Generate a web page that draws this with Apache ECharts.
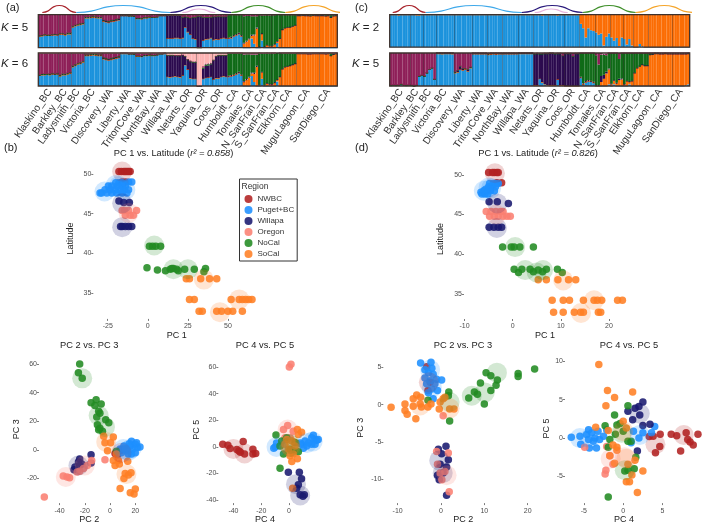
<!DOCTYPE html>
<html><head><meta charset="utf-8">
<script src="https://cdn.jsdelivr.net/npm/echarts@6/dist/echarts.min.js"></script>
<style>html,body{margin:0;padding:0;background:#fff}#c{width:709px;height:525px}#c canvas{filter:blur(0.3px)}</style>
</head><body><div id="c"></div>
<script>
// ---------- structure plots ----------
const popNames=['Klaskino_BC','Barkley_BC','Ladysmith_BC','Victoria_BC','Discovery_WA','Liberty_WA','TritonCove_WA','NorthBay_WA','Willapa_WA','Netarts_OR','Yaquina_OR','Coos_OR','Humboldt_CA','Tomales_CA','N_SanFran_CA','S_SanFran_CA','Elkhorn_CA','MuguLagoon_CA','SanDiego_CA'];
const popSizes=[8,5,5,7,7,6,6,6,6,6,6,6,6,6,5,4,6,9,7];
const clusterNames=['blue','orange','purple','green','maroon','pink'];
const clusterColors=['#1b92dc','#fb6d04','#2b0a4e','#0f6a17','#8e1f58','#fdb3b3'];

const a5Blue=[35,36,38,37,37,38,39,38, 40,40,38,42,42, 62,66,68,70,72, 90,90,91,92,91,90,90, 80,78,76,79,80,82,84, 97,97,97,96,96,95, 88,88,87,90,90,92, 92,92,93,97,97,97, 28,28,28,30,30,28, 30,62,48,40,28,26, 0,0,22,26,27,30, 24,26,25,28,30,28, 28,30,35,38,42,35, 0,0,0,28,12,0, 0,22,0,0,0, 0,0,14,0, 0,0,0,0,0,0, 0,0,0,0,0,0,0,0,0, 0,0,0,0,0,0,0];
const a5Orange=[0,0,0,0,0,0,0,0, 0,0,0,0,0, 0,0,0,0,0, 0,0,0,0,0,0,0, 0,0,0,0,0,0,0, 0,0,0,0,0,0, 0,0,0,0,0,0, 0,0,0,0,0,0, 0,0,0,0,0,0, 0,0,0,0,0,0, 0,0,0,0,0,0, 0,0,0,0,0,0, 0,0,0,0,0,0, 12,18,25,8,25,58, 3,20,3,8,5, 5,10,5,28, 55,60,62,62,65,68, 97,97,98,97,97,96,98,97,97, 97,97,96,97,92,96,97];
const a5Purple=[2,2,2,2,2,2,2,2, 3,3,3,3,3, 3,3,3,3,3, 3,3,3,3,3,3,3, 4,4,4,4,4,4,4, 1,1,1,1,1,1, 2,2,2,2,2,2, 1,1,1,1,1,1, 70,70,70,68,68,70, 62,32,44,50,64,66, 95,95,70,66,65,62, 70,68,70,66,64,66, 3,3,3,3,3,3, 3,3,3,3,3,3, 1,1,1,1,1, 1,1,1,1, 0,0,0,0,0,0, 0,0,0,0,0,0,0,0,0, 0,0,0,0,0,0,0];
const a5Green=[0,0,0,0,0,0,0,0, 0,0,0,0,0, 0,0,0,0,0, 0,0,0,0,0,0,0, 0,0,0,0,0,0,0, 0,0,0,0,0,0, 0,0,0,0,0,0, 0,0,0,0,0,0, 0,0,0,0,0,0, 0,0,0,0,0,0, 0,0,0,0,0,0, 0,0,0,0,0,0, 69,67,62,59,55,62, 80,75,68,56,55,34, 95,55,94,90,92, 93,88,80,70, 45,40,38,38,35,32, 3,3,2,3,3,4,2,3,3, 3,3,4,3,8,4,3];
const a5Maroon=[63,62,60,61,61,60,59,60, 57,57,59,55,55, 35,31,29,27,25, 7,7,6,5,6,7,7, 16,18,20,17,16,14,12, 2,2,2,3,3,4, 10,10,11,8,8,6, 7,7,6,2,2,2, 2,2,2,2,2,2, 8,6,8,10,8,8, 5,5,8,8,8,8, 6,6,5,6,6,6, 0,0,0,0,0,0, 5,4,4,5,5,5, 1,2,2,1,2, 1,1,1,2, 0,0,0,0,0,0, 0,0,0,0,0,0,0,0,0, 0,0,0,0,0,0,0];

const a6Blue=[32,34,34,35,34,36,35,36, 30,34,34,36,38, 58,62,66,68,72, 92,92,93,94,93,92,92, 82,80,78,80,82,84,86, 98,98,98,97,97,96, 90,90,89,92,92,93, 92,92,94,97,97,98, 28,27,28,30,28,27, 32,64,50,24,22,22, 0,0,22,25,26,28, 20,24,24,28,30,28, 28,30,32,36,40,32, 0,0,0,30,12,0, 0,22,0,0,0, 0,0,14,0, 0,0,0,0,0,0, 0,0,0,0,0,0,0,0,0, 0,0,0,0,0,0,0];
const a6Orange=[0,0,0,0,0,0,0,0, 0,0,0,0,0, 0,0,0,0,0, 0,0,0,0,0,0,0, 0,0,0,0,0,0,0, 0,0,0,0,0,0, 0,0,0,0,0,0, 0,0,0,0,0,0, 0,0,0,0,0,0, 0,0,0,0,0,0, 0,0,0,0,0,0, 0,0,0,0,0,0, 0,0,0,0,0,0, 12,18,25,8,25,58, 3,20,3,8,5, 5,10,5,28, 52,58,60,62,65,68, 98,98,98,98,97,97,98,98,98, 98,98,97,98,92,96,98];
const a6Purple=[2,2,2,2,2,2,2,2, 3,3,3,3,3, 3,3,3,3,3, 3,3,3,3,3,3,3, 4,4,4,4,4,4,4, 1,1,1,1,1,1, 2,2,2,2,2,2, 1,1,1,1,1,1, 65,66,65,62,64,65, 63,26,30,50,50,50, 0,0,30,36,36,38, 58,66,69,65,63,65, 3,3,3,3,3,3, 3,3,3,3,3,3, 1,1,1,1,1, 1,1,1,1, 0,0,0,0,0,0, 0,0,0,0,0,0,0,0,0, 0,0,0,0,0,0,0];
const a6Green=[0,0,0,0,0,0,0,0, 0,0,0,0,0, 0,0,0,0,0, 0,0,0,0,0,0,0, 0,0,0,0,0,0,0, 0,0,0,0,0,0, 0,0,0,0,0,0, 0,0,0,0,0,0, 0,0,0,0,0,0, 0,0,0,0,0,0, 0,0,4,4,4,2, 0,0,0,0,0,0, 69,67,65,61,57,65, 80,75,68,54,55,34, 95,55,94,90,92, 93,88,80,70, 48,42,40,38,35,32, 2,2,2,2,3,3,2,2,2, 2,2,3,2,8,4,2];
const a6Maroon=[66,64,64,63,64,62,63,62, 67,63,63,61,59, 39,35,31,29,25, 5,5,4,3,4,5,5, 14,16,18,16,14,12,10, 1,1,1,2,2,3, 8,8,9,6,6,5, 7,7,5,2,2,1, 2,2,2,2,2,2, 0,2,2,4,3,3, 0,0,4,3,3,3, 2,2,2,2,2,2, 0,0,0,0,0,0, 5,4,4,5,5,5, 1,2,2,1,2, 1,1,1,2, 0,0,0,0,0,0, 0,0,0,0,0,0,0,0,0, 0,0,0,0,0,0,0];
const a6Pink=[0,0,0,0,0,0,0,0, 0,0,0,0,0, 0,0,0,0,0, 0,0,0,0,0,0,0, 0,0,0,0,0,0,0, 0,0,0,0,0,0, 0,0,0,0,0,0, 0,0,0,0,0,0, 5,5,5,6,6,6, 5,8,18,22,25,25, 100,100,40,32,31,29, 20,8,5,5,5,5, 0,0,0,0,0,0, 0,0,0,0,0,0, 0,0,0,0,0, 0,0,0,0, 0,0,0,0,0,0, 0,0,0,0,0,0,0,0,0, 0,0,0,0,0,0,0];

const c2Blue=[100,100,100,98,100,100,100,100, 100,100,98,98,100, 100,100,100,100,100, 100,100,100,100,100,100,100, 100,100,100,100,100,100,100, 100,100,100,100,100,100, 100,100,100,100,100,100, 100,100,100,100,100,100, 100,100,100,100,100,100, 100,100,100,98,100,100, 100,100,100,98,100,100, 100,100,100,100,100,100, 72,58,30,58,52,50, 45,38,42,5,32,42, 30,20,28,4,30, 25,8,25,5, 0,0,10,3,0,0, 0,0,0,0,0,0,0,0,0, 0,0,0,0,0,0,0];
const c2Orange=[0,0,0,2,0,0,0,0, 0,0,2,2,0, 0,0,0,0,0, 0,0,0,0,0,0,0, 0,0,0,0,0,0,0, 0,0,0,0,0,0, 0,0,0,0,0,0, 0,0,0,0,0,0, 0,0,0,0,0,0, 0,0,0,2,0,0, 0,0,0,2,0,0, 0,0,0,0,0,0, 28,42,70,42,48,50, 55,62,58,95,68,58, 70,80,72,96,70, 75,92,75,95, 100,100,90,97,100,100, 100,100,100,100,100,100,100,100,100, 100,100,100,100,100,100,100];

const c5Blue=[2,3,2,3,5,3,2,3, 2,0,2,30,32, 30,40,50,55,20, 98,98,97,98,98,98,97, 40,42,50,48,50,45,55, 97,97,97,97,97,97, 95,96,97,96,97,97, 97,97,97,97,97,97, 98,98,98,98,98,98, 2,2,22,12,6,3, 2,2,2,20,2,2, 0,0,0,0,0,0, 25,5,12,15,14,10, 0,0,0,0,0,5, 0,5,0,0,0, 0,0,5,0, 0,0,0,0,0,0, 0,0,0,0,0,0,0,0,0, 0,0,0,0,0,3,5];
const c5Orange=[0,0,0,0,0,0,0,0, 0,0,0,0,0, 0,0,0,0,0, 0,0,0,0,0,0,0, 0,0,0,0,0,0,0, 0,0,0,0,0,0, 0,0,0,0,0,0, 0,0,0,0,0,0, 0,0,0,0,0,0, 0,0,0,0,0,0, 0,0,0,0,0,0, 0,0,0,0,0,0, 0,0,0,0,0,0, 0,0,12,22,38,45, 5,12,8,18,20, 5,15,8,15, 40,55,60,65,62,62, 95,96,98,98,97,97,98,97,97, 97,97,97,97,97,94,93];
const c5Purple=[0,0,0,0,0,0,0,0, 0,0,0,0,0, 0,0,0,0,0, 2,2,3,2,2,2,3, 3,5,10,5,3,5,2, 2,2,2,2,2,2, 3,3,2,3,2,2, 2,2,2,2,2,2, 2,2,2,2,2,2, 95,96,75,85,92,95, 97,97,95,78,96,90, 98,98,98,90,98,98, 3,3,3,3,2,3, 3,3,18,12,5,3, 2,1,2,4,3, 1,1,1,1, 0,0,0,0,0,0, 0,0,0,0,0,0,0,0,0, 0,0,0,0,0,0,0];
const c5Green=[0,0,0,0,0,0,0,0, 0,0,0,0,0, 0,0,0,0,0, 0,0,0,0,0,0,0, 0,0,0,0,0,0,0, 0,0,0,0,0,0, 0,0,0,0,0,0, 0,0,0,0,0,0, 0,0,0,0,0,0, 0,0,0,0,0,0, 0,0,0,0,0,0, 0,0,0,0,0,0, 72,92,85,82,84,87, 90,62,65,60,50,47, 93,82,90,60,77, 94,84,86,84, 60,45,40,35,38,38, 5,4,2,2,3,3,2,3,3, 3,3,3,3,3,3,2];
const c5Maroon=[98,97,98,97,95,97,98,97, 98,100,98,70,68, 70,60,50,45,80, 0,0,0,0,0,0,0, 57,53,40,47,47,50,43, 1,1,1,1,1,1, 2,1,1,1,1,1, 1,1,1,1,1,1, 0,0,0,0,0,0, 3,2,3,3,2,2, 1,1,3,2,2,8, 2,2,2,10,2,2, 0,0,0,0,0,0, 7,35,5,3,5,0, 0,0,0,18,0, 0,0,0,0, 0,0,0,0,0,0, 0,0,0,0,0,0,0,0,0, 0,0,0,0,0,0,0];

// ---------- population arcs (hump outline, axis span per region) ----------
const humpX=[0,0.16,0.33,0.5,0.67,0.84,1];
const humpY=[0,0.2,0.8,1,0.8,0.2,0];
const arcNames=['red','sky','indigo','pink','leaf','amber'];
const arcColors=['#a8242c','#3fa9ea','#2a1a7c','#e6b3dc','#3f8f2a','#f5a52a'];
const arcHeights=[1,1,1,0.5,1,1];
const arcSpansA=[[4,38],[38,132],[132,193],[144,177],[193,247],[247,304]];
const arcSpansC=[[3,36],[36,132],[132,193],[145,178],[193,246],[246,303]];

// ---------- scatter panels ----------
const regions=['NWBC','Puget+BC','Willapa','Oregon','NoCal','SoCal'];
const regionColors=['#b22222','#1e90ff','#191970','#fa8072','#228b22','#ff7f24'];

const b1NW=[[-18,50.3],[-16.5,50.3],[-15,50.3],[-14,50.3],[-13,50.3],[-12,50.3],[-11,50.3],[-16,49],[-14,49]];
const b1PS=[[-10,49],[-12,49],[-16,48.9],[-18,48.9],[-20,48.9],[-14,48.5],[-16,48.5],[-19,48.5],[-22.5,48.5],[-24.6,48.5],[-12,48],[-14.8,48],[-17.3,48],[-20.4,48],[-23.5,48],[-26.7,48],[-13,47.6],[-16,47.6],[-19.4,47.6],[-22.5,47.6],[-25.6,47.6],[-28.8,47.6],[-29.8,47.6]];
const b1WI=[[-18,46.6],[-15,46.4],[-11.5,46.4],[-17,43.4],[-16,43.4],[-14,43.4],[-12,43.4],[-10,43.4]];
const b1OR=[[-16,45.4],[-14.5,45.4],[-12,45.4],[-7,45.4],[-14,44.8],[-11,44.8],[-9,44.8]];
const b1NC=[[1,40.9],[3,40.9],[5,40.9],[8,40.9],[-0.5,38.2],[6,37.9],[11,37.8],[14,38],[15,38.1],[16,38.1],[18,38],[19,37.8],[23,38],[29,38],[36,38.1],[35,37.7]];
const b1SC=[[24,36.8],[26,36.8],[33,36.8],[38.5,36.8],[43,36.8],[26,34.2],[29,34.2],[52,34.2],[57,34.2],[59,34.2],[61,34.2],[63,34.2],[65,34.2],[32,32.7],[34,32.7],[43,32.7],[46,32.7],[50,32.7],[53,32.7],[59,32.7]];
const b1NWc=[[-16,50.3]];
const b1PSc=[[-27,47.8],[-20,48.6],[-14,48],[-18,48.5]];
const b1WIc=[[-16,46.3],[-16,43.3]];
const b1ORc=[[-12,45.1]];
const b1NCc=[[4,41],[16,38],[25,38]];
const b1SCc=[[35,36.7],[57,34.2],[45,32.6]];

const b2NW=[[4,-2.5],[6,-3.4],[8,-0.5],[9,0]];
const b2PS=[[8,0.5],[9,-2],[11,2.7],[12.7,-0.7],[14.5,-3],[16,2.7],[17,6],[18,0.5],[20,3.9],[20,-2],[21.6,1.6],[23.7,2],[13,0.5],[10.6,0.5],[15.3,4.3],[17,-3],[21,5]];
const b2WI=[[-15,-3.5],[-15,-9.3],[-24,-6.4],[-25,-8.6],[-22.4,-10],[-27.7,-12],[-28.5,-14],[-24,-11]];
const b2OR=[[-52,-33],[-37,-18.4],[-34,-19],[-32,-19.5],[-4,-7],[-14.5,-7.5],[-21,-13],[-24,-15],[-26,-15.5],[-18,-11]];
const b2NC=[[-24,60],[-25,54],[-22,50],[-15,33],[-11,35],[-7,32],[-12,31],[-9,27],[-10.5,23],[-8,25.5],[-3.4,21],[-1,19],[-10,17.5],[-8,15],[-6,13],[-9,14],[5,-1]];
const b2SC=[[-5,9.5],[2.6,9],[-4,5],[0.5,5],[-2,-0.7],[2.6,-7.5],[6.6,-7.5],[4,-11],[7.4,-10],[14,-8],[12,-16.6],[16.6,-16],[14.5,-17.7],[11,-20],[8,-27],[20,-27.5],[16,-30],[19,-31],[5,-3]];
const b2NWc=[[9,-2]];
const b2PSc=[[10.5,0.5],[17,1],[14.5,-0.7]];
const b2WIc=[[-25,-11]];
const b2ORc=[[-20,-11],[-35,-19]];
const b2NCc=[[-22,50],[-9,24],[-4,16]];
const b2SCc=[[-3,5.5],[13,-17]];

const b3NW=[[-47.7,2],[-44,1.2],[-42.4,-1.2],[-37.6,-2],[-33,4],[-36,-3],[-35,-4],[-32,-5.4],[-26,-1.7],[-26,-5.4],[-24,-5]];
const b3PS=[[-10,0],[-11,-1],[-9,3],[9,2],[11.5,4.4],[14,3],[16.3,6.8],[17.5,8.8],[18.7,5.6],[20,4.9],[21,5.6],[16.3,2],[12.7,0.7],[10.3,-1],[18.7,2],[8,3]];
const b3WI=[[-0.5,-19],[7.4,-19],[9,-24],[6.7,-28.5],[5.5,-31],[8,-36],[10,-37],[11,-36]];
const b3OR=[[1.4,62],[0.2,60],[-1,16],[-4,13],[3,11.7],[-2.9,6.8],[0.7,6.8]];
const b3NC=[[-5.3,4.4],[-6.5,0.7],[-4,-5.4],[6.7,-3.7],[3,-3],[-1.7,6.8],[0.7,-1.7],[4.3,3.2],[-9.4,9],[-6.5,-16]];
const b3SC=[[6,13],[9,11],[2,-11],[6,-9],[2.6,-31],[-1.7,5.6],[2,4.4],[4.3,0.7],[-0.5,-1.7],[3,-5.4],[-2.9,2],[0.7,-6.6],[6.7,9.3]];
const b3NWc=[[-40,-1.5],[-32,-5]];
const b3PSc=[[-9,0],[17,4],[13,3]];
const b3WIc=[[5,-28],[8,-36.5]];
const b3ORc=[[-1,13]];
const b3NCc=[[0.7,2],[0.7,0]];
const b3SCc=[[0.7,1],[1,0]];

const d1NW=[[-5,50.3],[-4.2,50.3],[-3.8,50.3],[-3.3,50.3],[-3,50.3],[-2.3,49],[-3.3,49]];
const d1PS=[[-6.4,47.6],[-5.8,47.6],[-5.2,47.6],[-6,48],[-5.3,48],[-4.6,48],[-3.8,48],[-5,48.5],[-4.3,48.5],[-3.6,48.5],[-4.8,48.9],[-4,48.9],[-3.4,48.9],[-3,48.9],[-4.7,48.2],[-5.6,48.2],[-6.6,47.8]];
const d1WI=[[-4.9,46.6],[-3.2,46.6],[-0.9,46.4],[-4.9,43.4],[-3.9,43.4],[-3,43.4],[-2.3,43.4]];
const d1OR=[[-5.5,45.4],[-4.5,45.4],[-3.5,45.4],[-2.5,45.4],[-2,45.4],[-4.8,44.8],[-3.8,44.8],[-3,44.8],[-2,44.8],[-1.2,44.8],[-0.5,44.8]];
const d1NC=[[-2.1,40.9],[-0.3,40.9],[0.3,40.9],[1.5,40.9],[4.3,40.9],[0.3,38.1],[1.2,37.7],[1.9,38.1],[3.6,38.1],[4.3,37.8],[5.3,38],[6.2,37.8],[7,38.1],[9.3,38.1],[10.3,37.7]];
const d1SC=[[5.3,36.8],[7,36.8],[9.4,36.8],[11.6,36.8],[13.1,36.8],[8.2,34.2],[10.5,34.2],[11.8,34.2],[14.7,34.2],[16.9,34.2],[17.6,34.2],[18.5,34.2],[21.8,34.2],[22.8,34.2],[8.5,32.7],[10.5,32.7],[12.8,32.7],[14.1,32.7],[14.7,32.7],[17.8,32.7],[18.3,32.7]];
const d1NWc=[[-3.7,50.2]];
const d1PSc=[[-6,48],[-5,48.4],[-4.5,48.3]];
const d1WIc=[[-3.2,46.4],[-3.3,43.3]];
const d1ORc=[[-3.4,45]];
const d1NCc=[[0.5,40.9],[2.6,38],[5,37.7],[6.3,38]];
const d1SCc=[[10.5,36.7],[16.9,34.2],[14.2,32.6]];

const d2NW=[[-3.3,5.1],[-2.5,3],[-3,1.9]];
const d2PS=[[-4.7,5.6],[-2.3,5.7],[-3.7,4.7],[-2.1,4.9],[-2.9,4.3],[-1.8,4.1],[-3.7,3.6],[-1,3.4],[0.15,3.3],[-2.5,3.2],[-3.3,2.8],[-1.4,2.8],[-2.1,2.1],[-0.8,1.9],[-2.9,1.6],[-1.8,0.8]];
const d2WI=[[1.15,-5.6],[-0.6,-6],[0.15,-6.6],[1.7,-7.4],[-0.2,-8],[1.3,-8.4],[-0.8,-9.5],[-0.4,-10.1],[0.5,-9.2],[1.3,-12.2]];
const d2OR=[[0.5,-1.5],[-1,-6.3],[1.7,-6.5],[-0.8,-8],[1.9,-11.7],[0.9,-9],[-0.2,-9.2],[0.2,-10.1]];
const d2NC=[[21.6,4.8],[17.8,4.2],[17.8,3.8],[10.4,4.3],[11.5,3.9],[13,3.3],[9.1,2.9],[12.7,2.6],[11.5,1.9],[7.7,1.7],[8.4,1.4],[6.4,0.9],[10,0.1],[1.8,1.7],[-3,0.6],[2,-2.2],[1.7,1.2]];
const d2SC=[[-11.5,-0.35],[-8.3,0.1],[-6.4,0.8],[-5.6,1.3],[-4.7,1],[-8.3,-0.8],[-7.8,-1.3],[-6.4,-0.2],[-5.8,-1.9],[-4.8,0.1],[-4.5,-0.3],[-3,-0.3],[-2.3,0.1],[-0.2,0.35],[0.5,0.8],[0.9,1],[-0.4,-0.6],[2,-0.6],[3,-0.6]];
const d2NWc=[[-2.8,3]];
const d2PSc=[[-2.5,4.7],[-2.1,2.3]];
const d2WIc=[[-0.4,-7.5],[0.4,-9.2]];
const d2ORc=[[1.3,-9.5]];
const d2NCc=[[12.9,4.3],[7.1,1.2],[10.1,1.65],[2,0.35]];
const d2SCc=[[-4.8,-0.1],[2,-0.5]];

const d3NW=[[9.5,0.5],[8,0.7],[6.1,0.5],[6.8,0.3],[8.2,-0.2],[8.5,-0.5],[8.9,-0.9],[7.3,-1.7],[4.7,0.5],[3.3,0.2],[3.8,0.25],[4.65,-1.1],[4.1,-1.9]];
const d3PS=[[-6.6,0.1],[-5.4,-0.8],[-4.3,-1.3],[-3.4,-1.3],[4,1.5],[-5.5,0.25],[-4.65,0.45],[-4.4,1.1],[-4,0.7],[-3.6,0],[-3.2,0.9],[-3,-0.2],[-3.8,-0.4],[-2.5,0.25],[-2.1,1.1],[-4.4,-0.2],[2,0],[1.3,0.9],[2.5,0.7],[3.6,0.7],[1,-0.6]];
const d3WI=[[2.5,4.7],[2,4.1],[1.5,3.9],[0.6,3.5],[2.1,3],[1.2,2.4],[2.5,1.65],[3.4,1.8],[1.8,-1.7]];
const d3OR=[[-4.9,-1.2],[-2.1,-1.1],[-2.2,-4.2],[-2.3,-4.7],[-1.7,-2.3],[-1.3,-3.4]];
const d3NC=[[-1.9,-7.7],[0.6,4.2],[-1.1,3],[-2.3,1.6],[-1.7,-0.2],[-1.9,-1.2],[-0.8,1.7],[-0.4,1.9],[0,0.9],[0.6,-0.4],[1,-0.4],[-1,0.5],[1.6,-2.5],[1.4,-4],[0.2,-4.3],[0.6,-4.2]];
const d3SC=[[-3.1,9.6],[-2,6.2],[1.2,6],[-1.1,5.3],[-2.2,4.2],[2.5,-4.3],[1.8,-7.1],[-3.5,1.4],[-1.9,1],[-1.3,-0.9],[-0.8,-1.2],[-1.1,-3.3],[-1.7,-2.3],[0.4,-5.7],[0.8,-5.7],[1.1,-4.8],[1.5,-2.9],[0.6,-3.4],[0,2.2],[0.4,1.3],[-0.8,-1.6]];
const d3NWc=[[7.7,0.4],[4.1,-0.8]];
const d3PSc=[[-5.5,0],[-4.2,0],[2.1,0.4]];
const d3WIc=[[2.1,3.2]];
const d3ORc=[[-1.6,-2.7],[0.2,-2.5]];
const d3NCc=[[-0.2,0.7],[0.2,-4.2]];
const d3SCc=[[0.4,-2.7],[0,0.9]];

// ---------- tick labels ----------
const b1XTicks=[-25,0,25,50], latTicks=[35,40,45,50];
const b2XTicks=[-40,-20,0,20], b2YTicks=[-20,0,20,40,60];
const b3XTicks=[-40,-20,0,20], b3YTicks=[-40,-20,0,20,40,60];
const d1XTicks=[-10,0,10,20];
const d2XTicks=[-10,0,10,20], d2YTicks=[-10,-5,0,5];
const d3XTicks=[-5,0,5,10], d3YTicks=[-5,0,5,10];

// ---------- build ----------
const categories=[], firstIdx=[], labelIdx=[];
popNames.forEach((n,i)=>{firstIdx.push(categories.length);labelIdx.push(categories.length+Math.floor(popSizes[i]/2));for(let k=0;k<popSizes[i];k++)categories.push(n);});

const F='"Liberation Sans", Arial, sans-serif';
const grids=[],xAxes=[],yAxes=[],series=[];
function addStructure(box,layers,withLabels){
  const g=grids.length;
  grids.push({left:box[0],top:box[1],width:box[2],height:box[3],show:true,z:10,backgroundColor:'transparent',borderColor:'#3d312c',borderWidth:1.3});
  xAxes.push({gridIndex:g,type:'category',data:categories,z:9,axisLine:{show:false},axisTick:{show:false},
    splitLine:{show:true,interval:(i)=>firstIdx.includes(i)&&i>0,lineStyle:{color:'rgba(50,40,40,0.5)',width:0.7}},
    axisLabel:{show:withLabels,interval:(i)=>labelIdx.includes(i),rotate:55,margin:4,fontSize:10,color:'#333',fontFamily:F}});
  yAxes.push({gridIndex:g,type:'value',min:0,max:100,show:false});
  layers.forEach(([idx,vals])=>series.push({name:clusterNames[idx],type:'bar',stack:'s'+g,xAxisIndex:g,yAxisIndex:g,data:vals,barWidth:'100%',barCategoryGap:0,
    itemStyle:{color:clusterColors[idx],borderColor:clusterColors[idx],borderWidth:1.2},emphasis:{disabled:true}}));
}
addStructure([38.3,14.7,299,33],[[0,a5Blue],[1,a5Orange],[2,a5Purple],[3,a5Green],[4,a5Maroon]],false);
addStructure([38.3,53,299,33],[[0,a6Blue],[1,a6Orange],[2,a6Purple],[3,a6Green],[4,a6Maroon],[5,a6Pink]],true);
addStructure([389.7,14.7,300,32.5],[[0,c2Blue],[1,c2Orange]],false);
addStructure([389.7,53,300,33],[[0,c5Blue],[1,c5Orange],[2,c5Purple],[3,c5Green],[4,c5Maroon]],true);

function addArcs(left,spans){
  const g=grids.length;
  grids.push({left:left,top:5.5,width:300,height:7});
  xAxes.push({gridIndex:g,type:'value',min:0,max:300,show:false});
  yAxes.push({gridIndex:g,type:'value',min:0,max:1,show:false});
  spans.forEach((s,i)=>series.push({name:arcNames[i],type:'line',xAxisIndex:g,yAxisIndex:g,smooth:0.4,symbol:'none',clip:false,
    lineStyle:{color:arcColors[i],width:1.2},data:humpX.map((t,k)=>[s[0]+t*(s[1]-s[0]),humpY[k]*arcHeights[i]])}));
}
addArcs(38.3,arcSpansA);
addArcs(389.7,arcSpansC);

function addScatter(box,xr,yr,xt,yt,xName,yName,nameGapX,nameGapY,dots,hubs){
  const g=grids.length;
  grids.push({left:box[0],top:box[1],width:box[2],height:box[3]});
  const lab={fontSize:7,color:'#4d4d4d',fontFamily:F};
  const nm={fontSize:9,color:'#222',fontFamily:F};
  xAxes.push({gridIndex:g,type:'value',min:xr[0],max:xr[1],name:xName,nameLocation:'middle',nameGap:nameGapX,nameTextStyle:nm,
    splitLine:{show:false},axisLine:{show:false,onZero:false},axisTick:{show:true,length:2,customValues:xt,lineStyle:{color:'#444',width:0.7}},axisLabel:{...lab,margin:4,customValues:xt}});
  yAxes.push({gridIndex:g,type:'value',min:yr[0],max:yr[1],name:yName,nameLocation:'middle',nameGap:nameGapY,nameTextStyle:nm,
    splitLine:{show:false},axisLine:{show:false,onZero:false},axisTick:{show:true,length:2,customValues:yt,lineStyle:{color:'#444',width:0.7}},axisLabel:{...lab,margin:2,customValues:yt}});
  dots.forEach((d,i)=>series.push({name:regions[i],type:'scatter',xAxisIndex:g,yAxisIndex:g,data:d,symbolSize:7.5,clip:false,itemStyle:{color:regionColors[i],opacity:0.88},emphasis:{disabled:true}}));
  hubs.forEach((d,i)=>series.push({name:regions[i]+' centroid',type:'scatter',xAxisIndex:g,yAxisIndex:g,data:d,symbolSize:20,clip:false,itemStyle:{color:regionColors[i],opacity:0.2},emphasis:{disabled:true}}));
}
addScatter([93.3,158.1,166.7,160.8],[-34,70],[31.75,52],b1XTicks,latTicks,'PC 1','Latitude',11,18,[b1NW,b1PS,b1WI,b1OR,b1NC,b1SC],[b1NWc,b1PSc,b1WIc,b1ORc,b1NCc,b1SCc]);
addScatter([39,355.5,100.6,151.5],[-56.2,23.4],[-37.3,66],b2XTicks,b2YTicks,'PC 2','PC 3',10,18,[b2NW,b2PS,b2WI,b2OR,b2NC,b2SC],[b2NWc,b2PSc,b2WIc,b2ORc,b2NCc,b2SCc]);
addScatter([218.3,356.3,93.4,150.7],[-50.9,16.3],[-42.2,68],b3XTicks,b3YTicks,'PC 4','PC 5',10,17,[b3NW,b3PS,b3WI,b3OR,b3NC,b3SC],[b3NWc,b3PSc,b3WIc,b3ORc,b3NCc,b3SCc]);
addScatter([464,159,162,160],[-10.12,23.55],[31.84,52],d1XTicks,latTicks,'PC 1','Latitude',11,19,[d1NW,d1PS,d1WI,d1OR,d1NC,d1SC],[d1NWc,d1PSc,d1WIc,d1ORc,d1NCc,d1SCc]);
addScatter([383.3,352.6,160,154.4],[-13.3,23.6],[-13.24,7],d2XTicks,d2YTicks,'PC 2','PC 3',10,18,[d2NW,d2PS,d2WI,d2OR,d2NC,d2SC],[d2NWc,d2PSc,d2WIc,d2ORc,d2NCc,d2SCc]);
addScatter([565,353.7,118,153.3],[-7.4,7.6],[-8.48,11],d3XTicks,d3YTicks,'PC 4','PC 5',10,13,[d3NW,d3PS,d3WI,d3OR,d3NC,d3SC],[d3NWc,d3PSc,d3WIc,d3ORc,d3NCc,d3SCc]);

function txt(text,x,y,size,align,color){return {text,left:x,top:y,padding:0,itemGap:0,textAlign:align||'left',textStyle:{fontFamily:F,fontSize:size,fontWeight:'normal',color:color||'#222',
  rich:{i:{fontStyle:'italic',fontSize:size,fontFamily:F,color:color||'#222'},n:{fontSize:size,fontFamily:F,color:color||'#222'}}}};}
const titles=[
 txt('(a)',6,2,11),txt('(c)',355,2,11),txt('(b)',4,142,11),txt('(d)',355,142,11),
 txt('{i|K}{n| = 5}',1,22,11.5),txt('{i|K}{n| = 6}',1,58,11.5),txt('{i|K}{n| = 2}',352,22,11.5),txt('{i|K}{n| = 5}',352,58,11.5),
 txt('{n|PC 1 vs. Latitude (}{i|r² = 0.858}{n|)}',173.5,149,9.3,'center'),
 txt('{n|PC 1 vs. Latitude (}{i|r² = 0.826}{n|)}',538,149,9.3,'center'),
 txt('PC 2 vs. PC 3',89.3,341,9.3,'center'),txt('PC 4 vs. PC 5',265,341,9.3,'center'),
 txt('PC 2 vs. PC 3',463,341,9.3,'center'),txt('PC 4 vs. PC 5',629,341,9.3,'center'),
 txt('Region',241.5,182,8.5,'left','#333')
];
const chart=echarts.init(document.getElementById('c'),null,{renderer:'canvas'});
chart.setOption({animation:false,backgroundColor:'#fff',textStyle:{fontFamily:F},title:titles,grid:grids,xAxis:xAxes,yAxis:yAxes,series,
  legend:{data:regions,orient:'vertical',left:239.5,top:179,padding:[16,3,3,5],itemWidth:8,itemHeight:8,itemGap:3,icon:'circle',selectedMode:false,
    backgroundColor:'#fff',borderColor:'#333',borderWidth:1,textStyle:{fontSize:8,color:'#333',fontFamily:F}}});
</script></body></html>
